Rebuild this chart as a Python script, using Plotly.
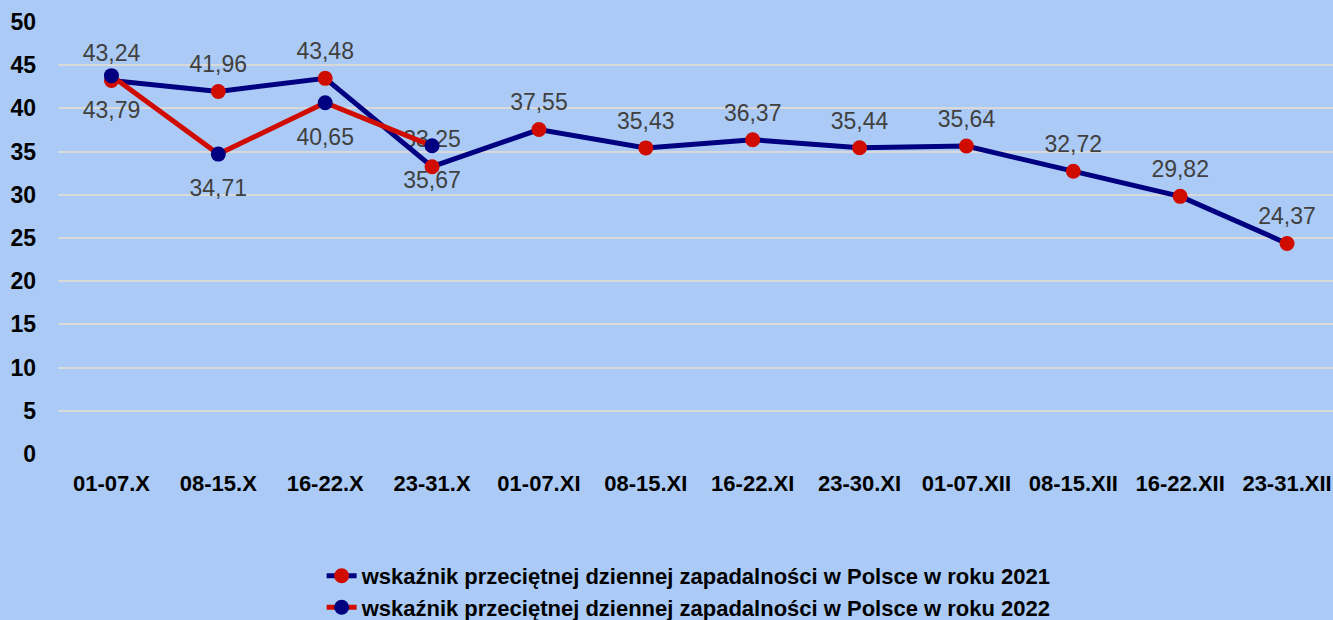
import plotly.graph_objects as go

categories = ["01-07.X", "08-15.X", "16-22.X", "23-31.X", "01-07.XI", "08-15.XI",
              "16-22.XI", "23-30.XI", "01-07.XII", "08-15.XII", "16-22.XII", "23-31.XII"]
values_2021 = [43.24, 41.96, 43.48, 33.25, 37.55, 35.43, 36.37, 35.44, 35.64, 32.72, 29.82, 24.37]
values_2022 = [43.79, 34.71, 40.65, 35.67]
name_2021 = "wskaźnik przeciętnej dziennej zapadalności w Polsce w roku 2021"
name_2022 = "wskaźnik przeciętnej dziennej zapadalności w Polsce w roku 2022"

NAVY = "#000080"
RED = "#d00c00"
BG = "#abcbf6"
FONT = "Liberation Sans, Arial, sans-serif"

def fmt(v):
    return f"{v:.2f}".replace(".", ",")

x_idx = list(range(len(categories)))
x_2022 = x_idx[:len(values_2022)]

label_font = dict(family=FONT, size=23, color="#404040")

fig = go.Figure()
# data labels (drawn first so that lines and markers lie over them)
fig.add_trace(go.Scatter(
    x=x_idx, y=values_2021, mode="markers+text", showlegend=False, hoverinfo="skip",
    marker=dict(size=20, color="rgba(0,0,0,0)"),
    text=[fmt(v) for v in values_2021], textposition="top center",
    textfont=label_font, cliponaxis=False,
))
fig.add_trace(go.Scatter(
    x=x_2022, y=values_2022, mode="markers+text", showlegend=False, hoverinfo="skip",
    marker=dict(size=38, color="rgba(0,0,0,0)"),
    text=[fmt(v) for v in values_2022], textposition="bottom center",
    textfont=label_font, cliponaxis=False,
))
fig.add_trace(go.Scatter(
    x=x_idx, y=values_2021, mode="lines+markers", name=name_2021,
    line=dict(color=NAVY, width=5), marker=dict(color=RED, size=15),
    cliponaxis=False,
))
fig.add_trace(go.Scatter(
    x=x_2022, y=values_2022, mode="lines+markers", name=name_2022,
    line=dict(color=RED, width=5), marker=dict(color=NAVY, size=15),
    cliponaxis=False,
))

fig.update_layout(
    width=1333, height=620,
    paper_bgcolor=BG, plot_bgcolor=BG,
    margin=dict(l=58, r=0, t=22, b=166),
    font=dict(family=FONT, size=22, color="#000000"),
    showlegend=True,
    legend=dict(
        orientation="v", x=0.495, xanchor="center", xref="paper",
        y=0.105, yanchor="top", yref="container",
        bgcolor="rgba(0,0,0,0)",
        font=dict(family=FONT, size=22, color="#000000", weight="bold"),
        tracegroupgap=0, itemwidth=30,
    ),
    xaxis=dict(
        tickmode="array", tickvals=x_idx, ticktext=categories,
        range=[-0.5, 11.43], showgrid=False, zeroline=False, showline=False,
        ticks="", ticklabelstandoff=14,
        tickfont=dict(family=FONT, size=22, color="#000000", weight="bold"),
    ),
    yaxis=dict(
        range=[0, 50], dtick=5, tick0=0, showgrid=True, gridcolor="#d9d9d9",
        gridwidth=2, zeroline=False, showline=False, ticks="",
        ticklabelstandoff=21,
        tickfont=dict(family=FONT, size=23, color="#000000", weight="bold"),
    ),
)

fig.write_html(
    "out.html",
    config={"displayModeBar": False},
    post_script="document.body.style.margin='0';document.body.style.overflow='hidden';",
)
